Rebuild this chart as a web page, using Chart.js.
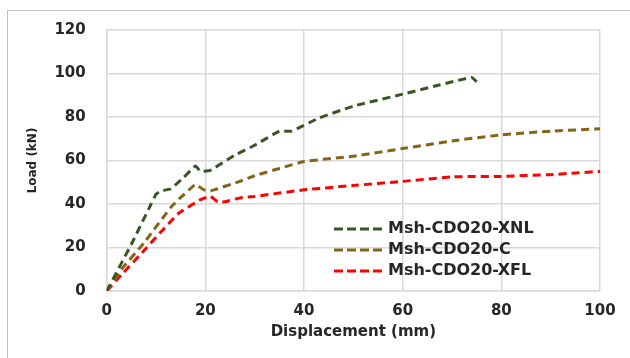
<!DOCTYPE html>
<html>
<head>
<meta charset="utf-8">
<script src="https://cdn.jsdelivr.net/npm/chart.js@4.4.1/dist/chart.umd.min.js"></script>
<style>
  html, body { margin: 0; padding: 0; background: #fff; }
  #wrap { width: 630px; height: 358px; }
</style>
</head>
<body>
<div id="wrap"><canvas id="chart" width="630" height="358"></canvas></div>
<script>
// load-displacement curves
const xnlDisp = [0, 5, 9, 10, 11, 13, 15.5, 18, 19, 21, 26, 30, 35, 37.5, 43, 50, 60, 67, 74, 75];
const xnlLoad = [0, 21.5, 40, 44.5, 46, 47, 52, 57.5, 55, 55.5, 62.5, 67, 73.5, 73.5, 79.5, 85, 90.5, 94.5, 98.2, 96.2];

const cDisp = [0, 3, 7.5, 13, 15, 18, 19.6, 21, 27, 30, 40, 50, 60, 70, 80, 90, 100];
const cLoad = [0, 10, 22, 38.5, 43, 49, 46.6, 46, 50.4, 53, 59.5, 62, 65.5, 69, 71.8, 73.5, 74.6];

const xflDisp = [0, 3, 8, 14.5, 19, 21, 22.5, 24, 27, 30, 40, 50, 60, 70, 80, 90, 100];
const xflLoad = [0, 7.5, 19.7, 35.6, 42, 43.6, 41, 41, 42.8, 43.5, 46.5, 48.5, 50.4, 52.5, 52.7, 53.5, 55];

const seriesNames = ["Msh-CDO20-XNL", "Msh-CDO20-C", "Msh-CDO20-XFL"];
const seriesColors = ["#375623", "#846418", "#ff0000"];
const xTicks = [0, 20, 40, 60, 80, 100];
const yTicks = [0, 20, 40, 60, 80, 100, 120];

const pts = (xs, ys) => xs.map((x, i) => ({ x: x, y: ys[i] }));

const fontFam = "'DejaVu Sans', sans-serif";
const textCol = "#262626";

// outer frame + white background
const framePlugin = {
  id: "frame",
  beforeDraw(chart) {
    const ctx = chart.ctx;
    ctx.save();
    ctx.fillStyle = "#fff";
    ctx.fillRect(0, 0, chart.width, chart.height);
    ctx.strokeStyle = "#bfbfbf";
    ctx.lineWidth = 1;
    ctx.strokeRect(7.5, 10.5, 700, 400);
    ctx.restore();
  }
};

// legend drawn inside the plot area
const insideLegend = {
  id: "insideLegend",
  afterDatasetsDraw(chart) {
    const ctx = chart.ctx;
    ctx.save();
    ctx.font = "bold 16px " + fontFam;
    ctx.textBaseline = "middle";
    chart.data.datasets.forEach((ds, i) => {
      const y = 229 + i * 21;
      ctx.strokeStyle = ds.borderColor;
      ctx.lineWidth = 3;
      ctx.setLineDash([9, 4]);
      ctx.beginPath();
      ctx.moveTo(334, y);
      ctx.lineTo(386, y);
      ctx.stroke();
      ctx.setLineDash([]);
      ctx.fillStyle = textCol;
      ctx.fillText(ds.label, 388, y);
    });
    ctx.restore();
  }
};

new Chart(document.getElementById("chart"), {
  type: "line",
  data: {
    datasets: [
      { label: seriesNames[0], data: pts(xnlDisp, xnlLoad) },
      { label: seriesNames[1], data: pts(cDisp, cLoad) },
      { label: seriesNames[2], data: pts(xflDisp, xflLoad) }
    ].map((d, i) => Object.assign(d, {
      borderColor: seriesColors[i],
      backgroundColor: seriesColors[i],
      borderWidth: 3,
      borderDash: [8, 5],
      pointRadius: 0,
      tension: 0.1,
      fill: false
    }))
  },
  options: {
    responsive: false,
    animation: false,
    layout: { padding: { top: 27, right: 30, left: 7, bottom: 17 } },
    plugins: { legend: { display: false }, tooltip: { enabled: false } },
    scales: {
      x: {
        type: "linear",
        min: 0, max: 100,
        afterBuildTicks: s => { s.ticks = xTicks.map(v => ({ value: v })); },
        grid: { color: "#d9d9d9", lineWidth: 1.5, drawTicks: false },
        border: { color: "#d9d9d9", width: 1.5 },
        ticks: { color: textCol, padding: 11, font: { family: fontFam, size: 15, weight: "bold" } },
        title: {
          display: true, text: "Displacement (mm)", color: textCol,
          padding: { top: -8, bottom: 0 },
          font: { family: fontFam, size: 15, weight: "bold" }
        }
      },
      y: {
        min: 0, max: 120,
        afterBuildTicks: s => { s.ticks = yTicks.map(v => ({ value: v })); },
        grid: { color: "#d9d9d9", lineWidth: 1.5, drawTicks: false },
        border: { color: "#d9d9d9", width: 1.5 },
        ticks: { color: textCol, padding: 21, font: { family: fontFam, size: 15, weight: "bold" } },
        title: {
          display: true, text: "Load (kN)", color: textCol,
          padding: { top: 19, bottom: -7 },
          font: { family: fontFam, size: 12, weight: "bold" }
        }
      }
    }
  },
  plugins: [framePlugin, insideLegend]
});
</script>
</body>
</html>
